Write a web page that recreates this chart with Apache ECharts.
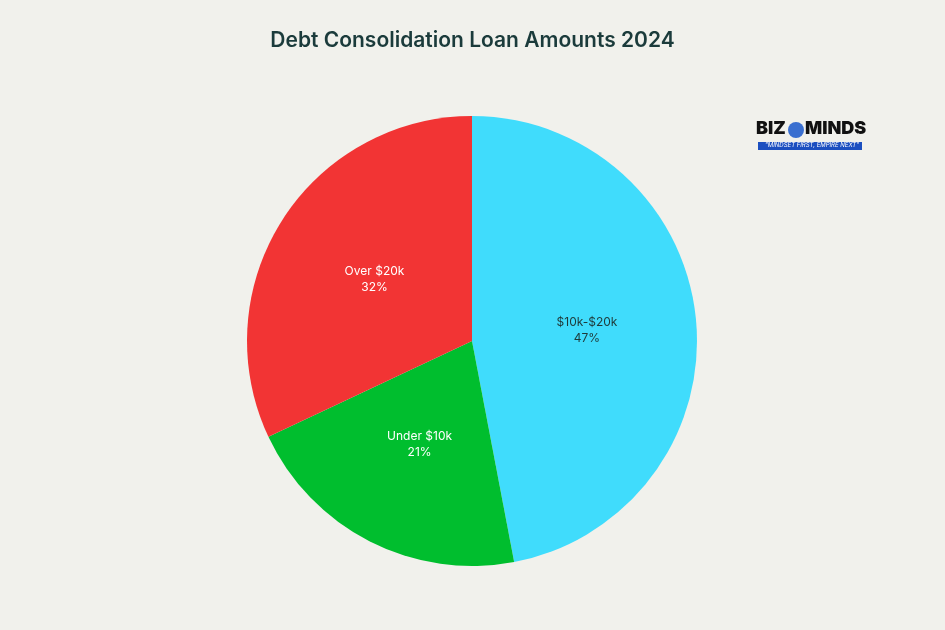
<!DOCTYPE html>
<html><head><meta charset="utf-8">
<script src="https://cdn.jsdelivr.net/npm/echarts@6/dist/echarts.min.js"></script>
<style>html,body{margin:0;padding:0;background:#f1f1ec}#c{width:945px;height:630px}</style>
</head><body><div id="c"></div>
<script>
const categories = ['$10k-$20k', 'Under $10k', 'Over $20k'];
const values = [47, 21, 32];
const colors = ['#40dcfc', '#00be2e', '#f23434'];
const labelColors = ['#1f3b3b', '#ffffff', '#ffffff'];

const chart = echarts.init(document.getElementById('c'));
chart.setOption({
  backgroundColor: '#f1f1ec',
  title: {
    text: 'Debt Consolidation Loan Amounts 2024', left: 'center', top: 25,
    textStyle: { fontFamily: 'Inter', fontSize: 21, fontWeight: 600, color: '#1b3b3b' }
  },
  graphic: [
    { type: 'text', left: 756, top: 120, style: { text: 'BIZ', font: '900 18px Inter', fill: '#111' } },
    { type: 'circle', shape: { cx: 796, cy: 130, r: 8 }, style: { fill: '#3a6fd0' } },
    { type: 'text', left: 805, top: 120, style: { text: 'MINDS', font: '900 18px Inter', fill: '#111' } },
    { type: 'rect', shape: { x: 758, y: 142, width: 104, height: 8 }, style: { fill: '#1c4fc0' } },
    { type: 'text', left: 765, top: 142, style: { text: '"MINDSET FIRST, EMPIRE NEXT"', font: 'italic 6px Inter', fill: '#fff' } }
  ],
  series: [{
    type: 'pie', center: [472, 341], radius: 225, startAngle: 90, clockwise: true,
    label: { position: 'inside', formatter: '{b}\n{d}%', fontFamily: 'Inter', fontSize: 12, lineHeight: 16 },
    labelLine: { show: false },
    itemStyle: { borderWidth: 0 },
    emphasis: { disabled: true },
    data: categories.map((c, i) => ({
      name: c, value: values[i], itemStyle: { color: colors[i] },
      label: { color: labelColors[i] }
    }))
  }]
});
</script></body></html>
